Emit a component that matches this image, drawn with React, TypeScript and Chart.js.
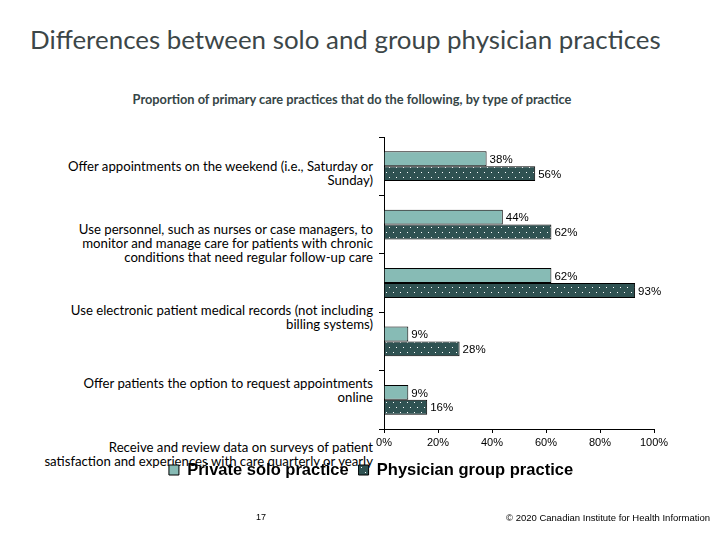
import React, { useEffect, useRef } from "react";
import { Chart, registerables } from "chart.js";

Chart.register(...registerables);

const title = "Differences between solo and group physician practices";
const subtitle = "Proportion of primary care practices that do the following, by type of practice";

const categoryLines: string[][] = [
  ["Offer appointments on the weekend (i.e., Saturday or", "Sunday)"],
  [
    "Use personnel, such as nurses or case managers, to",
    "monitor and manage care for patients with chronic",
    "conditions that need regular follow-up care",
  ],
  ["Use electronic patient medical records (not including", "billing systems)"],
  ["Offer patients the option to request appointments", "online"],
  ["Receive and review data on surveys of patient", "satisfaction and experiences with care quarterly or yearly"],
];
const categories = categoryLines.map((l) => l.join(" "));
const seriesNames = ["Private solo practice", "Physician group practice"];
const soloValues = [38, 44, 62, 9, 9];
const groupValues = [56, 62, 93, 28, 16];
const xTickStep = 20;
const xMax = 100;
const pageNumber = "17";
const copyright = "© 2020 Canadian Institute for Health Information";

// layout (label block tops, px)
const labelTops = [159.8, 223.2, 304.2, 377.2, 441.4];

const ARIAL = "'Liberation Sans', Arial, sans-serif";

function makeDots(base: string): CanvasPattern | string {
  const c = document.createElement("canvas");
  c.width = 7;
  c.height = 10;
  const g = c.getContext("2d");
  if (!g) return base;
  g.fillStyle = base;
  g.fillRect(0, 0, 7, 10);
  g.fillStyle = "#ffffff";
  g.fillRect(1, 2, 1, 1);
  g.fillRect(4, 7, 1, 1);
  return g.createPattern(c, "repeat") || base;
}

const valueLabels = {
  id: "valueLabels",
  afterDatasetsDraw(chart: any) {
    const { ctx } = chart;
    ctx.save();
    ctx.font = `11.5px ${ARIAL}`;
    ctx.fillStyle = "#000";
    ctx.textBaseline = "middle";
    ctx.textAlign = "left";
    chart.data.datasets.forEach((ds: any, di: number) => {
      const meta = chart.getDatasetMeta(di);
      meta.data.forEach((el: any, i: number) => {
        ctx.fillText(ds.data[i] + "%", el.x + 3, el.y + 1);
      });
    });
    ctx.restore();
  },
};

export default function App() {
  const ref = useRef<HTMLCanvasElement>(null);

  useEffect(() => {
    if (!ref.current) return;
    const dots = makeDots("#2F5252");
    const chart = new Chart(ref.current, {
      type: "bar",
      data: {
        labels: categories,
        datasets: [
          {
            label: seriesNames[0],
            data: soloValues,
            backgroundColor: "#87BBB5",
            borderColor: "#000",
            borderWidth: 1,
            categoryPercentage: 0.51,
            barPercentage: 1,
          },
          {
            label: seriesNames[1],
            data: groupValues,
            backgroundColor: dots as any,
            borderColor: "#000",
            borderWidth: 1,
            categoryPercentage: 0.51,
            barPercentage: 1,
          },
        ],
      },
      options: {
        indexAxis: "y",
        responsive: false,
        animation: false,
        layout: { padding: { left: 88, right: 66, top: 137, bottom: 51.75 } },
        plugins: {
          legend: {
            position: "bottom",
            labels: {
              font: { family: ARIAL, size: 16.5, weight: "bold" },
              color: "#000",
              boxWidth: 10,
              boxHeight: 10,
              padding: 10,
            },
          },
          tooltip: { enabled: false },
        },
        scales: {
          y: {
            type: "category",
            offset: true,
            ticks: { display: false },
            grid: {
              display: true,
              drawOnChartArea: false,
              drawTicks: true,
              tickLength: 5,
              color: "#000",
              offset: true,
            },
            border: { color: "#000", width: 1 },
            afterFit: (s: any) => {
              s.width = 296;
            },
          },
          x: {
            min: 0,
            max: xMax,
            ticks: {
              stepSize: xTickStep,
              callback: (v: any) => v + "%",
              color: "#000",
              font: { family: ARIAL, size: 11 },
              padding: 3,
              maxRotation: 0,
            },
            grid: { drawOnChartArea: false, tickLength: 4, color: "#000" },
            border: { color: "#000", width: 1 },
            afterFit: (s: any) => {
              s.height = 22.75;
            },
          },
        },
      },
      plugins: [valueLabels],
    });
    return () => chart.destroy();
  }, []);

  const labelStyle: React.CSSProperties = {
    position: "absolute",
    right: 347,
    width: 360,
    textAlign: "right",
    fontFamily: "Lato, sans-serif",
    fontSize: 13.2,
    lineHeight: "13.8px",
    color: "#000",
    whiteSpace: "nowrap",
  };

  return (
    <div style={{ position: "absolute", left: 0, top: 0, width: 720, height: 540, background: "#fff", overflow: "hidden" }}>
      <div
        style={{
          position: "absolute",
          left: 30,
          top: 23,
          fontFamily: "Lato, sans-serif",
          fontSize: 25.9,
          lineHeight: "32px",
          color: "#3c4648",
          whiteSpace: "nowrap",
        }}
      >
        {title}
      </div>
      <div
        style={{
          position: "absolute",
          left: 0,
          width: 704,
          top: 91,
          textAlign: "center",
          fontFamily: "Lato, sans-serif",
          fontWeight: "bold",
          fontSize: 12.8,
          lineHeight: "16px",
          color: "#354546",
          whiteSpace: "nowrap",
        }}
      >
        {subtitle}
      </div>
      {categoryLines.map((lines, i) => (
        <div key={i} style={{ ...labelStyle, top: labelTops[i] }}>
          {lines.map((t, j) => (
            <div key={j}>{t}</div>
          ))}
        </div>
      ))}
      <canvas ref={ref} width={720} height={540} style={{ position: "absolute", left: 0, top: 0 }} />
      <div style={{ position: "absolute", left: 256, top: 512, fontFamily: ARIAL, fontSize: 9, color: "#000" }}>
        {pageNumber}
      </div>
      <div
        style={{
          position: "absolute",
          right: 10,
          top: 512,
          fontFamily: ARIAL,
          fontSize: 9.5,
          color: "#000",
          whiteSpace: "nowrap",
        }}
      >
        {copyright}
      </div>
    </div>
  );
}
